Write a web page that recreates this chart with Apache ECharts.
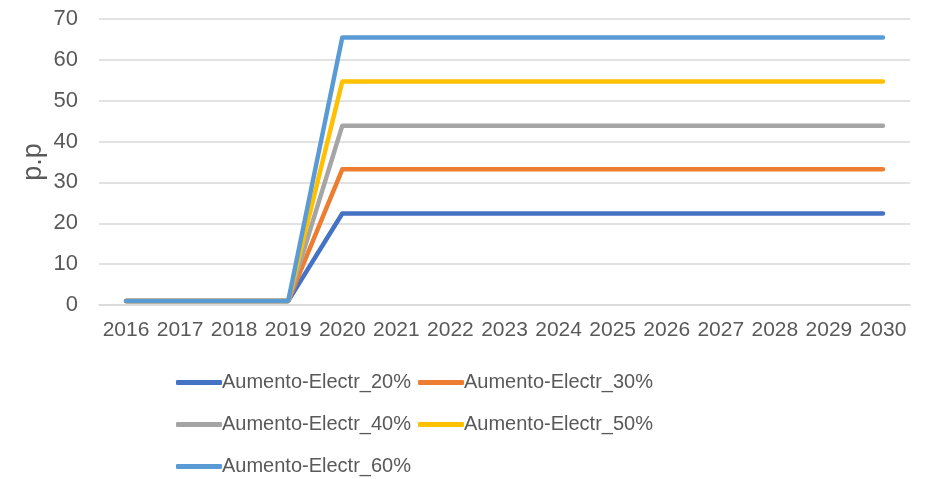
<!DOCTYPE html>
<html>
<head>
<meta charset="utf-8">
<script src="https://cdn.jsdelivr.net/npm/echarts@6/dist/echarts.min.js"></script>
<style>html,body{margin:0;padding:0;background:#fff}#c{width:925px;height:479px}</style>
</head>
<body>
<div id="c"></div>
<script>
const categories = ['2016','2017','2018','2019','2020','2021','2022','2023','2024','2025','2026','2027','2028','2029','2030'];
const seriesNames = ['Aumento-Electr_20%','Aumento-Electr_30%','Aumento-Electr_40%','Aumento-Electr_50%','Aumento-Electr_60%'];
const s20 = [1,1,1,1,22.4,22.4,22.4,22.4,22.4,22.4,22.4,22.4,22.4,22.4,22.4];
const s30 = [1,1,1,1,33.2,33.2,33.2,33.2,33.2,33.2,33.2,33.2,33.2,33.2,33.2];
const s40 = [1,1,1,1,43.9,43.9,43.9,43.9,43.9,43.9,43.9,43.9,43.9,43.9,43.9];
const s50 = [1,1,1,1,54.7,54.7,54.7,54.7,54.7,54.7,54.7,54.7,54.7,54.7,54.7];
const s60 = [1,1,1,1,65.5,65.5,65.5,65.5,65.5,65.5,65.5,65.5,65.5,65.5,65.5];
const colors = ['#4472C4','#ED7D31','#A5A5A5','#FFC000','#5B9BD5'];
const yAxisTitle = 'p.p';
const allData = [s20,s30,s40,s50,s60];

const chart = echarts.init(document.getElementById('c'));
const font = 'Liberation Sans, Arial, sans-serif';
chart.setOption({
  animation: false,
  color: colors,
  grid: {left: 99, right: 15, top: 19, bottom: 174, containLabel: false},
  graphic: [{
    type: 'text',
    x: 34, y: 162,
    rotation: Math.PI / 2,
    style: {text: yAxisTitle, fill: '#595959', fontSize: 27, fontFamily: font, textAlign: 'center', textVerticalAlign: 'middle'}
  }],
  xAxis: {
    type: 'category',
    data: categories,
    boundaryGap: true,
    axisLine: {show: true, lineStyle: {color: '#D9D9D9', width: 1.5}},
    axisTick: {show: false},
    axisLabel: {color: '#595959', fontSize: 21, fontFamily: font, margin: 15, interval: 0}
  },
  yAxis: {
    type: 'value',
    min: 0, max: 70, interval: 10,
    axisLine: {show: false},
    axisTick: {show: false},
    axisLabel: {color: '#595959', fontSize: 22, fontFamily: font, margin: 21},
    splitLine: {lineStyle: {color: '#D9D9D9', width: 1.5}}
  },
  legend: {
    left: 171, top: 360, width: 500,
    icon: 'roundRect',
    itemWidth: 46, itemHeight: 5, itemGap: 7,
    textStyle: {color: '#595959', fontSize: 20, fontFamily: font, lineHeight: 35, padding: [0,0,0,-5]},
    data: seriesNames
  },
  series: seriesNames.map((n, i) => ({
    name: n,
    type: 'line',
    data: allData[i],
    symbol: 'none',
    lineStyle: {width: 4.5, color: colors[i], cap: 'round', join: 'round'},
    itemStyle: {color: colors[i]}
  }))
});
</script>
</body>
</html>
